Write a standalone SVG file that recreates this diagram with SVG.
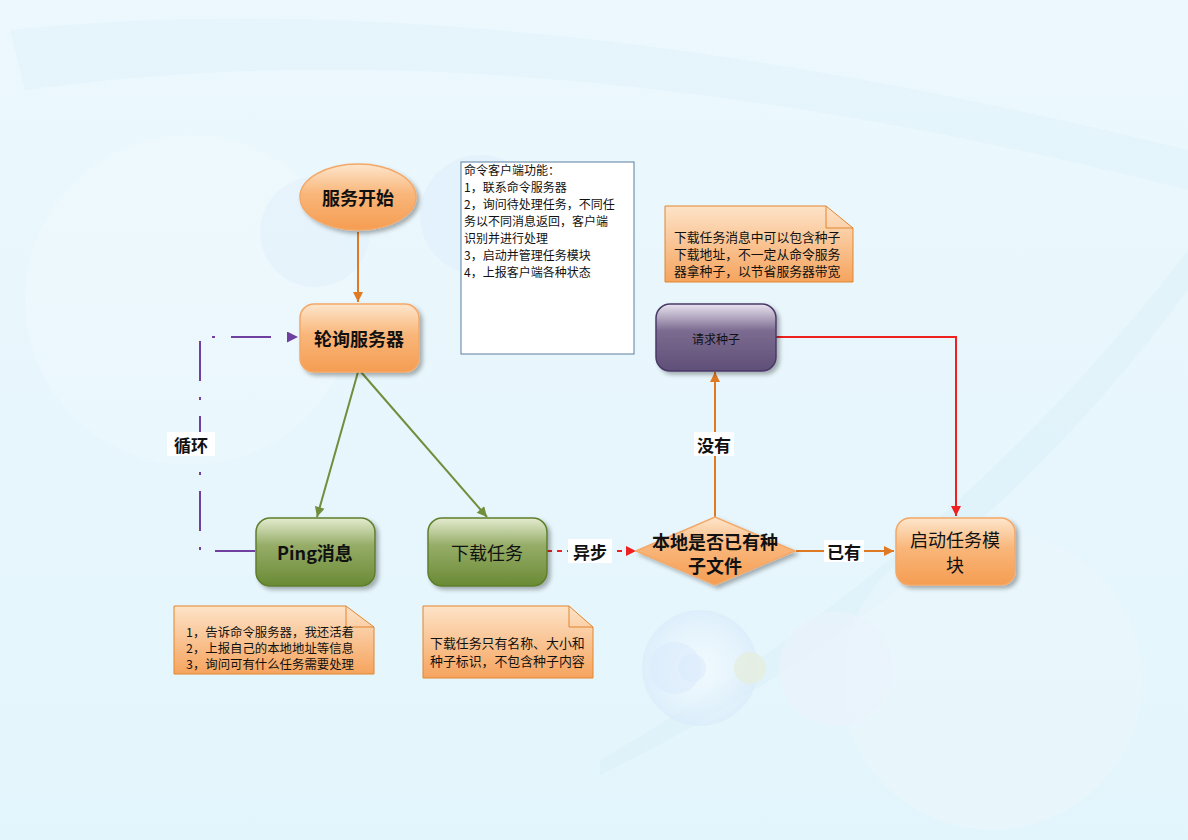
<svg xmlns="http://www.w3.org/2000/svg" width="1188" height="840" viewBox="0 0 1188 840">
<defs>
<linearGradient id="bg" x1="0" y1="0" x2="0" y2="1"><stop offset="0" stop-color="#ecf8fd"/><stop offset="1" stop-color="#e3f5fc"/></linearGradient>
<radialGradient id="bubble" cx="0.5" cy="0.5" r="0.5"><stop offset="0" stop-color="#ffffff" stop-opacity="0.4"/><stop offset="1" stop-color="#d8eafb" stop-opacity="0.6"/></radialGradient>
<linearGradient id="org" x1="0" y1="0" x2="0" y2="1"><stop offset="0" stop-color="#fde6cc"/><stop offset="0.45" stop-color="#f9b67a"/><stop offset="1" stop-color="#f59d52"/></linearGradient>
<linearGradient id="grn" x1="0" y1="0" x2="0" y2="1"><stop offset="0" stop-color="#e4ecd0"/><stop offset="0.4" stop-color="#96ad68"/><stop offset="1" stop-color="#6a8a34"/></linearGradient>
<linearGradient id="pur" x1="0" y1="0" x2="0" y2="1"><stop offset="0" stop-color="#eae4f0"/><stop offset="0.4" stop-color="#7b6b90"/><stop offset="1" stop-color="#5f4f78"/></linearGradient>
<linearGradient id="note" x1="0" y1="0" x2="0" y2="1"><stop offset="0" stop-color="#fde3c8"/><stop offset="1" stop-color="#f6a45e"/></linearGradient>
<filter id="sh" x="-20%" y="-20%" width="150%" height="160%"><feDropShadow dx="3" dy="3" stdDeviation="2" flood-color="#000" flood-opacity="0.3"/></filter>
<marker id="aO" viewBox="0 0 10 10" refX="10" refY="5" markerWidth="12" markerHeight="10" markerUnits="userSpaceOnUse" orient="auto"><path d="M0,0 L10,5 L0,10 Z" fill="#e07a22"/></marker>
<marker id="aG" viewBox="0 0 10 10" refX="10" refY="5" markerWidth="12" markerHeight="10" markerUnits="userSpaceOnUse" orient="auto"><path d="M0,0 L10,5 L0,10 Z" fill="#6f8f3c"/></marker>
<marker id="aR" viewBox="0 0 10 10" refX="10" refY="5" markerWidth="13" markerHeight="10" markerUnits="userSpaceOnUse" orient="auto"><path d="M0,0 L10,5 L0,10 Z" fill="#ee2020"/></marker>
<marker id="aP" viewBox="0 0 10 10" refX="10" refY="5" markerWidth="15" markerHeight="11" markerUnits="userSpaceOnUse" orient="auto"><path d="M0,0 L10,5 L0,10 Z" fill="#7040a0"/></marker>
<style>
.cjk{font-family:"SimSun","Noto Sans CJK SC","Liberation Sans",sans-serif;fill:#111}
.big{font-size:18px;font-weight:bold;text-anchor:middle;dominant-baseline:central}
.lbl{font-size:17px;font-weight:bold;text-anchor:middle;dominant-baseline:central}
.sm{font-size:12px}
.box{stroke-width:1.5}
</style>
</defs>
<rect width="1188" height="840" fill="url(#bg)"/>
<g id="background">
<circle cx="190" cy="300" r="165" fill="#ffffff" opacity="0.15"/>
<path d="M10,30 Q500,-20 1188,150 L1188,190 Q520,20 25,90 Z" fill="#d8eefa" opacity="0.3"/>
<path d="M600,760 Q950,560 1188,250 L1188,290 Q960,600 600,775 Z" fill="#d4ebf6" opacity="0.3"/>
<circle cx="480" cy="215" r="60" fill="#dcecfa" opacity="0.45"/>
<circle cx="315" cy="232" r="55" fill="#dcecfa" opacity="0.35"/>
<circle cx="992" cy="680" r="150" fill="#eef8fc" opacity="0.45"/>
<circle cx="700" cy="668" r="58" fill="url(#bubble)"/>
<circle cx="675" cy="668" r="26" fill="#dcebfb" opacity="0.6"/>
<circle cx="692" cy="668" r="14" fill="#dcebfb" opacity="0.6"/>
<circle cx="750" cy="668" r="16" fill="#e6eedf" opacity="0.8"/>
<circle cx="836" cy="669" r="57" fill="#eaf2fb" opacity="0.7"/>
</g>
<g id="connectors" fill="none">
<path d="M358,232 V302" stroke="#e07a22" stroke-width="2" marker-end="url(#aO)"/>
<path d="M358,372 L317,517" stroke="#6f8f3c" stroke-width="2" marker-end="url(#aG)"/>
<path d="M361,372 L487,517" stroke="#6f8f3c" stroke-width="2" marker-end="url(#aG)"/>
<path d="M255,551 H200 V337 H298" stroke="#7040a0" stroke-width="2" stroke-dasharray="40,16,3,16" marker-end="url(#aP)"/>
<path d="M547,551 H636" stroke="#ee2020" stroke-width="2" stroke-dasharray="5,5" marker-end="url(#aR)"/>
<path d="M715,517 V372" stroke="#e07a22" stroke-width="2" marker-end="url(#aO)"/>
<path d="M796,551 H894" stroke="#e07a22" stroke-width="2" marker-end="url(#aO)"/>
<path d="M776,337 H956 V516" stroke="#ee2020" stroke-width="2" marker-end="url(#aR)"/>
<rect x="167" y="432" width="48" height="24" fill="#fff"/>
<text class="cjk lbl" x="191" y="444">循环</text>
<rect x="568" y="539" width="44" height="24" fill="#fff"/>
<text class="cjk lbl" x="590" y="551">异步</text>
<rect x="694" y="432" width="40" height="24" fill="#fff"/>
<text class="cjk lbl" x="714" y="444">没有</text>
<rect x="824" y="540" width="40" height="22" fill="#fff"/>
<text class="cjk lbl" x="844" y="551">已有</text>
</g>
<g id="start">
<ellipse cx="358" cy="197" rx="58" ry="33" fill="url(#org)" stroke="#f3a868" stroke-width="1.5" filter="url(#sh)"/>
<text class="cjk big" x="358" y="197">服务开始</text>
</g>
<g id="poll">
<rect x="300" y="304" width="119" height="68" rx="14" fill="url(#org)" stroke="#f3a868" class="box" filter="url(#sh)"/>
<text class="cjk big" x="359" y="338">轮询服务器</text>
</g>
<g id="ping">
<rect x="256" y="518" width="119" height="68" rx="14" fill="url(#grn)" stroke="#5f7f2c" class="box" filter="url(#sh)"/>
<text class="cjk big" x="315" y="552" font-size="19">Ping消息</text>
</g>
<g id="download">
<rect x="428" y="518" width="119" height="68" rx="14" fill="url(#grn)" stroke="#5f7f2c" class="box" filter="url(#sh)"/>
<text class="cjk big" x="487" y="552" style="font-weight:normal">下载任务</text>
</g>
<g id="decision">
<polygon points="636,551 715,517 795,551 715,585" fill="url(#org)" stroke="#f3a868" class="box" filter="url(#sh)"/>
<text class="cjk big" x="715" y="541">本地是否已有种</text>
<text class="cjk big" x="715" y="565">子文件</text>
</g>
<g id="request">
<rect x="656" y="304" width="120" height="67" rx="14" fill="url(#pur)" stroke="#4a3a68" class="box" filter="url(#sh)"/>
<text class="cjk" x="716" y="338" font-size="12" text-anchor="middle" dominant-baseline="central">请求种子</text>
</g>
<g id="launch">
<rect x="896" y="518" width="119" height="67" rx="14" fill="url(#org)" stroke="#f3a868" class="box" filter="url(#sh)"/>
<text class="cjk big" x="955" y="539" style="font-weight:normal">启动任务模</text>
<text class="cjk big" x="955" y="564" style="font-weight:normal">块</text>
</g>
<g id="client-note">
<rect x="461" y="162" width="173" height="192" fill="#ffffff" stroke="#5a7ea0"/>
<text class="cjk sm" x="464" y="175">命令客户端功能：</text>
<text class="cjk sm" x="464" y="192">1，联系命令服务器</text>
<text class="cjk sm" x="464" y="209">2，询问待处理任务，不同任</text>
<text class="cjk sm" x="464" y="226">务以不同消息返回，客户端</text>
<text class="cjk sm" x="464" y="243">识别并进行处理</text>
<text class="cjk sm" x="464" y="260">3，启动并管理任务模块</text>
<text class="cjk sm" x="464" y="277">4，上报客户端各种状态</text>
</g>
<g id="seed-note">
<path d="M665,206 H826 L853,228 V282 H665 Z" fill="url(#note)" stroke="#e0862e"/>
<path d="M826,206 V228 H853" fill="none" stroke="#e0862e"/>
<text class="cjk" font-size="12.8" x="674" y="242">下载任务消息中可以包含种子</text>
<text class="cjk" font-size="12.8" x="674" y="259">下载地址，不一定从命令服务</text>
<text class="cjk" font-size="12.8" x="674" y="276">器拿种子，以节省服务器带宽</text>
</g>
<g id="ping-note">
<path d="M174,606 H346 L374,627 V674 H174 Z" fill="url(#note)" stroke="#e0862e"/>
<path d="M346,606 V627 H374" fill="none" stroke="#e0862e"/>
<text class="cjk" font-size="12.4" x="186" y="637">1，告诉命令服务器，我还活着</text>
<text class="cjk" font-size="12.4" x="186" y="653">2，上报自己的本地地址等信息</text>
<text class="cjk" font-size="12.4" x="186" y="669">3，询问可有什么任务需要处理</text>
</g>
<g id="download-note">
<path d="M423,606 H569 L593,627 V678 H423 Z" fill="url(#note)" stroke="#e0862e"/>
<path d="M569,606 V627 H593" fill="none" stroke="#e0862e"/>
<text class="cjk" font-size="12.9" x="430" y="648">下载任务只有名称、大小和</text>
<text class="cjk" font-size="12.9" x="430" y="666">种子标识，不包含种子内容</text>
</g>
</svg>
